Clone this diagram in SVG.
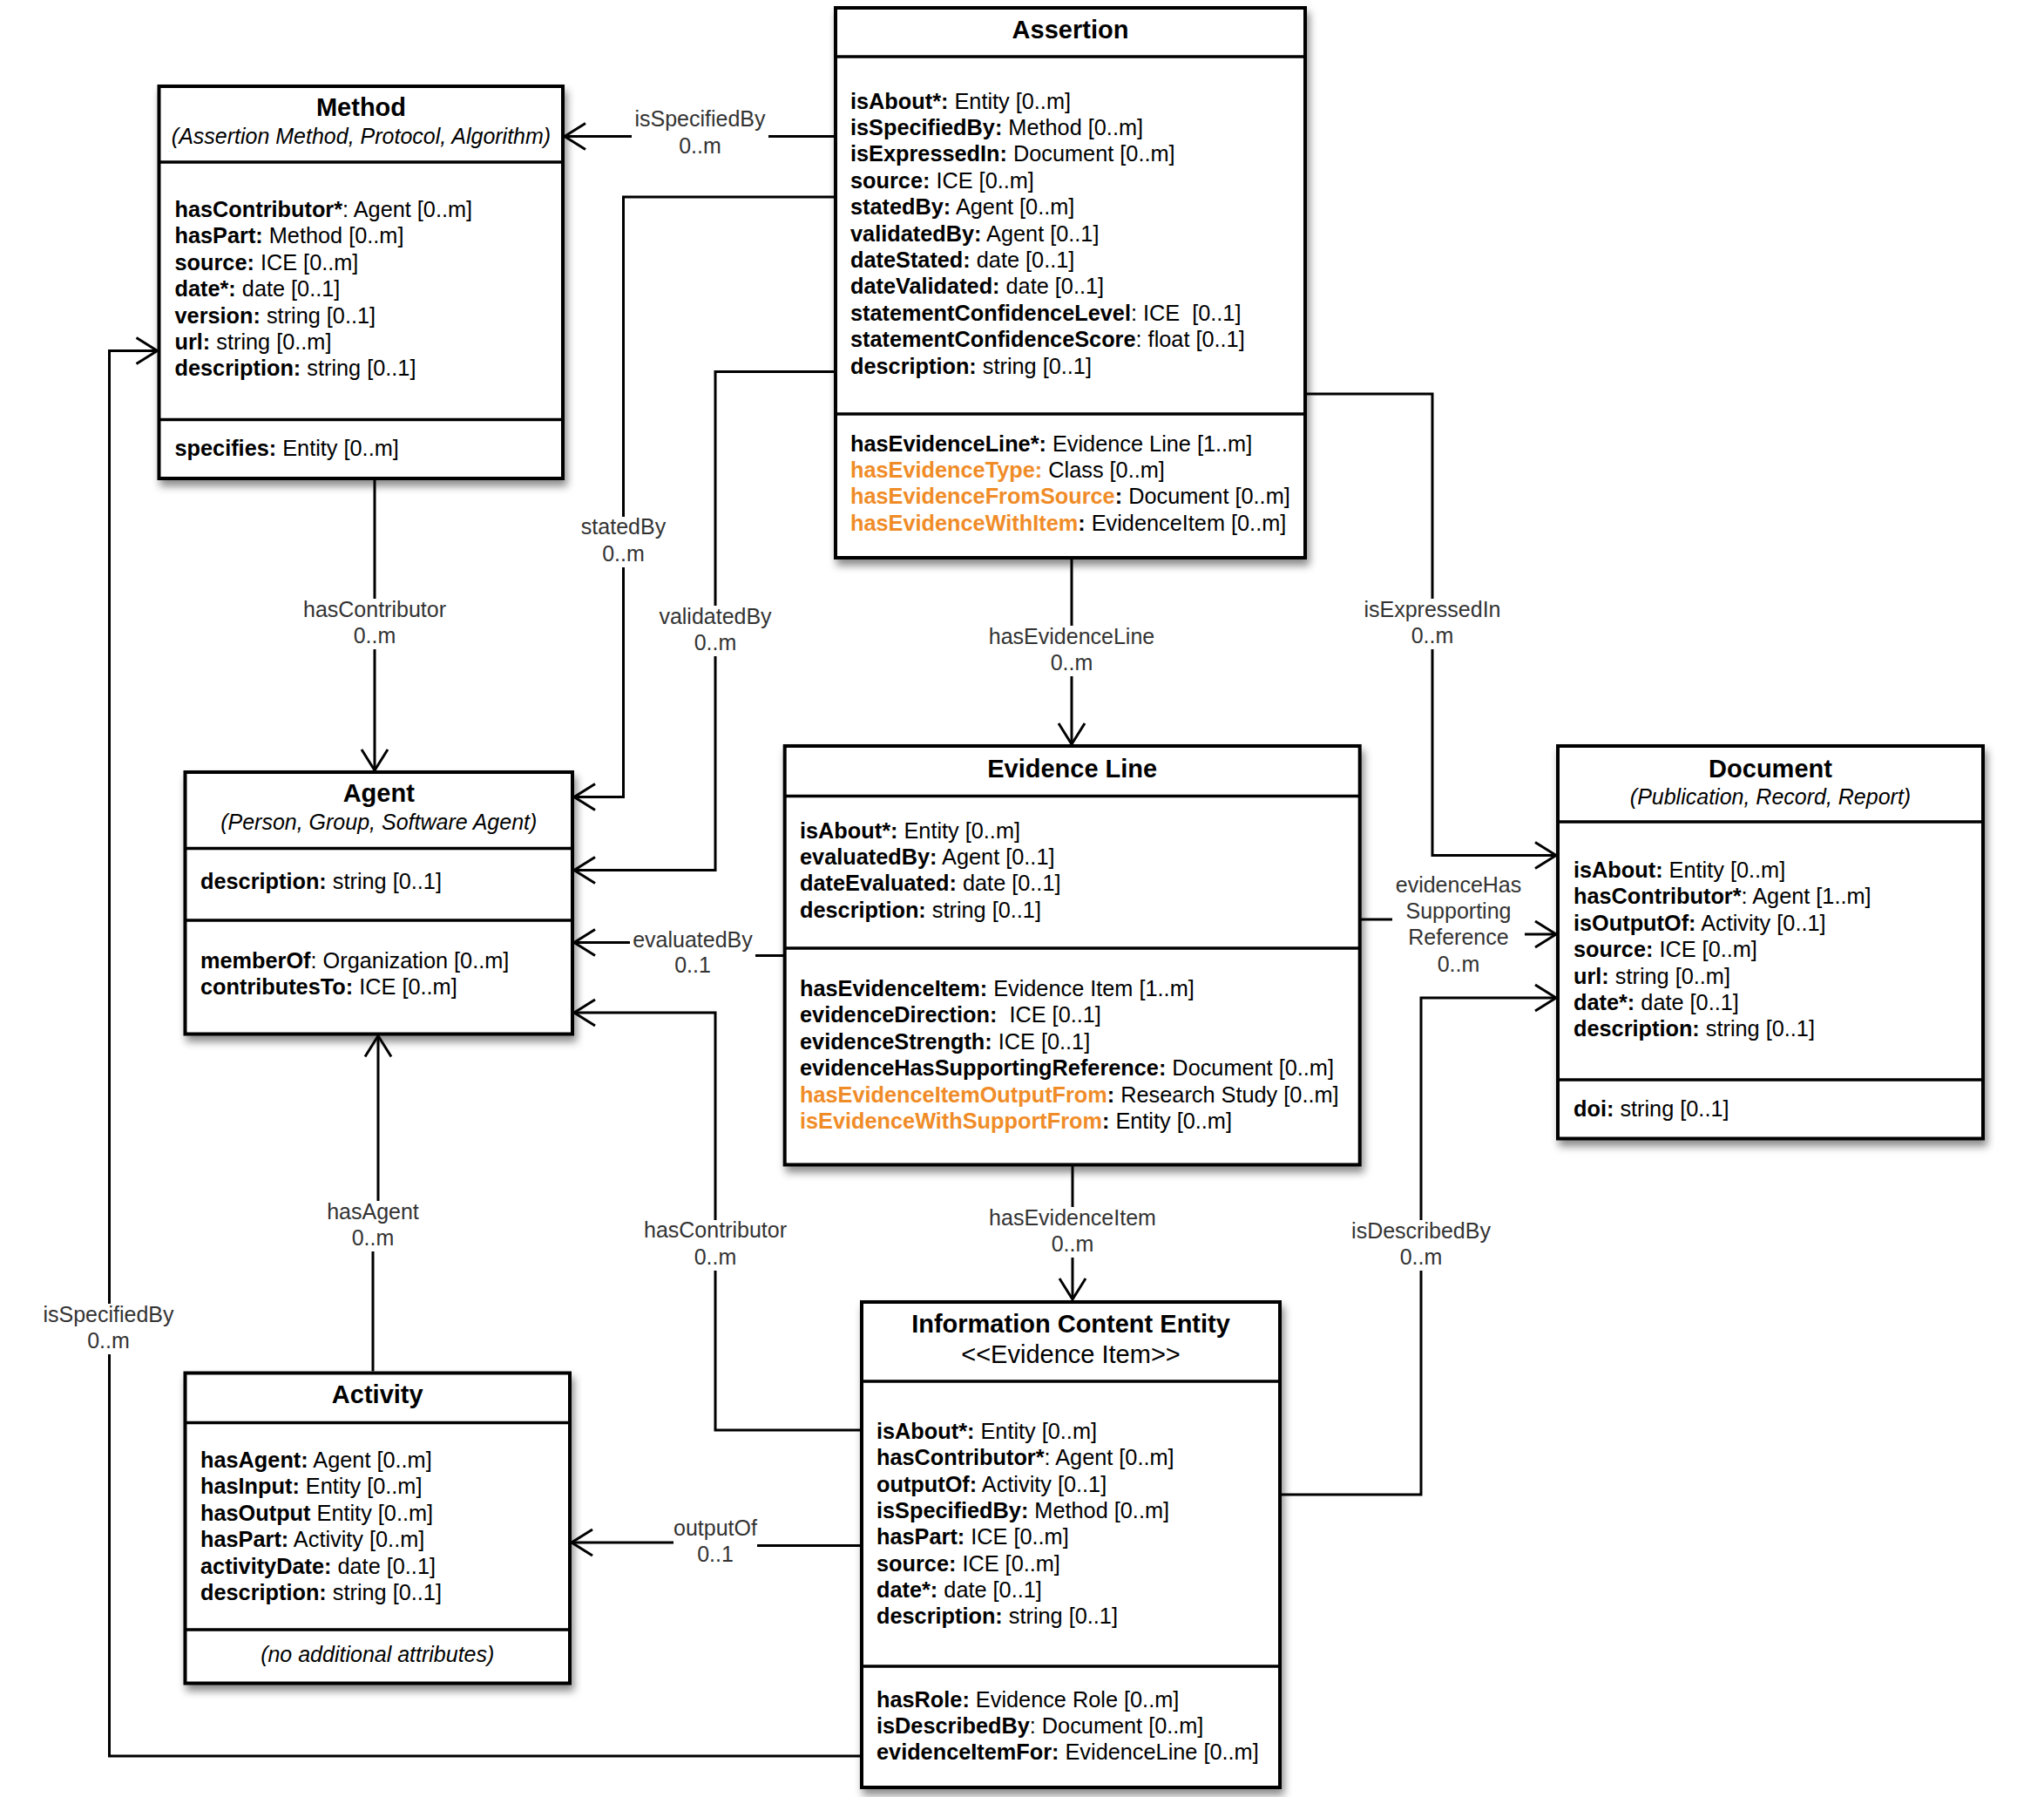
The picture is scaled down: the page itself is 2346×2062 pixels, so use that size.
<svg xmlns="http://www.w3.org/2000/svg" width="2346" height="2062" viewBox="0 0 2346 2062">
  <defs>
    <filter id="shadow" x="-5%" y="-5%" width="112%" height="112%">
      <feDropShadow dx="3" dy="7" stdDeviation="5" flood-color="#000" flood-opacity="0.45"/>
    </filter>
    <marker id="open" markerUnits="userSpaceOnUse" markerWidth="30" markerHeight="32" refX="25" refY="15" orient="auto" overflow="visible">
      <path d="M1,0 L25,15 L1,30" fill="none" stroke="#000" stroke-width="3"/>
    </marker>
    <style>
      text { font-family: "Liberation Sans", Arial, sans-serif; font-size: 25.3px; fill: #000; }
      .title { font-size: 29px; font-weight: bold; text-anchor: middle; }
      .stereo { font-size: 29px; text-anchor: middle; }
      .sub { font-style: italic; text-anchor: middle; font-size: 25px; }
      .b { font-weight: bold; }
      .o { font-weight: bold; fill: #F08C28; }
      .box { fill: #fff; stroke: #000; stroke-width: 4; filter: url(#shadow); }
      .div { stroke: #000; stroke-width: 3.5; }
      .conn { fill: none; stroke: #000; stroke-width: 3; marker-end: url(#open); }
      .lbg { fill: #fff; }
      .lbl { fill: #333; text-anchor: middle; font-size: 25px; }
    </style>
  </defs>

  <!-- connectors -->
  <g id="connectors">
    <path class="conn" d="M959,156.5 H648"/>
    <path class="conn" d="M959,226 H715.5 V914.5 H659"/>
    <path class="conn" d="M959,426.5 H821 V998.5 H659"/>
    <path class="conn" d="M430,551 V884"/>
    <path class="conn" d="M1230,642 V854"/>
    <path class="conn" d="M1500,452 H1644 V981.5 H1786"/>
    <path class="conn" d="M899,1096.5 H795 V1081.5 H659"/>
    <path class="conn" d="M1562,1055 H1674 V1072 H1786"/>
    <path class="conn" d="M1231,1338 V1491"/>
    <path class="conn" d="M1471,1715 H1631 V1145 H1786"/>
    <path class="conn" d="M987,1641 H821 V1162 H659"/>
    <path class="conn" d="M987,1773.5 H821 V1770 H656"/>
    <path class="conn" d="M428,1573.5 V1405 H434 V1188.5"/>
    <path class="conn" d="M987,2015 H125.5 V402.5 H180.5"/>

    <!-- connector labels -->
    <g id="labels">
      <rect class="lbg" x="725" y="125" width="157" height="59"/>
      <text class="lbl" x="803.5" y="145">isSpecifiedBy</text>
      <text class="lbl" x="803.5" y="176">0..m</text>

      <rect class="lbg" x="664" y="593" width="103" height="58"/>
      <text class="lbl" x="715.5" y="613">statedBy</text>
      <text class="lbl" x="715.5" y="643.5">0..m</text>

      <rect class="lbg" x="754" y="695" width="135" height="58"/>
      <text class="lbl" x="821" y="715.5">validatedBy</text>
      <text class="lbl" x="821" y="746">0..m</text>

      <rect class="lbg" x="345" y="687" width="171" height="58"/>
      <text class="lbl" x="430" y="707.5">hasContributor</text>
      <text class="lbl" x="430" y="737.5">0..m</text>

      <rect class="lbg" x="1133" y="718" width="196" height="58"/>
      <text class="lbl" x="1230" y="738.5">hasEvidenceLine</text>
      <text class="lbl" x="1230" y="768.5">0..m</text>

      <rect class="lbg" x="1563" y="687" width="163" height="58"/>
      <text class="lbl" x="1644" y="707.5">isExpressedIn</text>
      <text class="lbl" x="1644" y="737.5">0..m</text>

      <rect class="lbg" x="723" y="1066" width="144" height="57"/>
      <text class="lbl" x="795" y="1086.5">evaluatedBy</text>
      <text class="lbl" x="795" y="1115.5">0..1</text>

      <rect class="lbg" x="1598" y="1003" width="152" height="120"/>
      <text class="lbl" x="1674" y="1023.5">evidenceHas</text>
      <text class="lbl" x="1674" y="1054">Supporting</text>
      <text class="lbl" x="1674" y="1084">Reference</text>
      <text class="lbl" x="1674" y="1115">0..m</text>

      <rect class="lbg" x="1134" y="1385" width="195" height="58"/>
      <text class="lbl" x="1231" y="1405.5">hasEvidenceItem</text>
      <text class="lbl" x="1231" y="1435.5">0..m</text>

      <rect class="lbg" x="1548" y="1400" width="166" height="58"/>
      <text class="lbl" x="1631" y="1420.5">isDescribedBy</text>
      <text class="lbl" x="1631" y="1450.5">0..m</text>

      <rect class="lbg" x="736" y="1400" width="171" height="58"/>
      <text class="lbl" x="821" y="1420">hasContributor</text>
      <text class="lbl" x="821" y="1450.5">0..m</text>

      <rect class="lbg" x="773" y="1742" width="96" height="58"/>
      <text class="lbl" x="821" y="1762">outputOf</text>
      <text class="lbl" x="821" y="1792">0..1</text>

      <rect class="lbg" x="372" y="1378" width="112" height="58"/>
      <text class="lbl" x="428" y="1398.5">hasAgent</text>
      <text class="lbl" x="428" y="1428.5">0..m</text>

      <rect class="lbg" x="46" y="1496" width="157" height="58"/>
      <text class="lbl" x="124.5" y="1516.5">isSpecifiedBy</text>
      <text class="lbl" x="124.5" y="1546.5">0..m</text>
    </g>
  </g>

  <!-- Method -->
  <g id="node-method">
    <rect class="box" x="182.5" y="99" width="463.5" height="450"/>
    <line class="div" x1="182.5" y1="186" x2="646" y2="186"/>
    <line class="div" x1="182.5" y1="481.5" x2="646" y2="481.5"/>
    <text class="title" x="414.5" y="133">Method</text>
    <text class="sub" x="414.5" y="165">(Assertion Method, Protocol, Algorithm)</text>
    <text x="200.5" y="249"><tspan class="b">hasContributor*</tspan>: Agent [0..m]</text>
    <text x="200.5" y="279.4"><tspan class="b">hasPart:</tspan> Method [0..m]</text>
    <text x="200.5" y="309.8"><tspan class="b">source:</tspan> ICE [0..m]</text>
    <text x="200.5" y="340.2"><tspan class="b">date*:</tspan> date [0..1]</text>
    <text x="200.5" y="370.6"><tspan class="b">version:</tspan> string [0..1]</text>
    <text x="200.5" y="401"><tspan class="b">url:</tspan> string [0..m]</text>
    <text x="200.5" y="431.4"><tspan class="b">description:</tspan> string [0..1]</text>
    <text x="200.5" y="523"><tspan class="b">specifies:</tspan> Entity [0..m]</text>
  </g>

  <!-- Assertion -->
  <g id="node-assertion">
    <rect class="box" x="959" y="9" width="539" height="631"/>
    <line class="div" x1="959" y1="65" x2="1498" y2="65"/>
    <line class="div" x1="959" y1="475" x2="1498" y2="475"/>
    <text class="title" x="1228.5" y="44">Assertion</text>
    <text x="976" y="124.5"><tspan class="b">isAbout*:</tspan> Entity [0..m]</text>
    <text x="976" y="154.9"><tspan class="b">isSpecifiedBy:</tspan> Method [0..m]</text>
    <text x="976" y="185.3"><tspan class="b">isExpressedIn:</tspan> Document [0..m]</text>
    <text x="976" y="215.7"><tspan class="b">source:</tspan> ICE [0..m]</text>
    <text x="976" y="246.1"><tspan class="b">statedBy:</tspan> Agent [0..m]</text>
    <text x="976" y="276.5"><tspan class="b">validatedBy:</tspan> Agent [0..1]</text>
    <text x="976" y="306.9"><tspan class="b">dateStated:</tspan> date [0..1]</text>
    <text x="976" y="337.3"><tspan class="b">dateValidated:</tspan> date [0..1]</text>
    <text x="976" y="367.7"><tspan class="b">statementConfidenceLevel</tspan>: ICE &#160;[0..1]</text>
    <text x="976" y="398.1"><tspan class="b">statementConfidenceScore</tspan>: float [0..1]</text>
    <text x="976" y="428.5"><tspan class="b">description:</tspan> string [0..1]</text>
    <text x="976" y="517.5"><tspan class="b">hasEvidenceLine*:</tspan> Evidence Line [1..m]</text>
    <text x="976" y="547.9"><tspan class="o">hasEvidenceType:</tspan> Class [0..m]</text>
    <text x="976" y="578.3"><tspan class="o">hasEvidenceFromSource</tspan><tspan class="b">:</tspan> Document [0..m]</text>
    <text x="976" y="608.7"><tspan class="o">hasEvidenceWithItem</tspan><tspan class="b">:</tspan> EvidenceItem [0..m]</text>
  </g>

  <!-- Agent -->
  <g id="node-agent">
    <rect class="box" x="212.5" y="886" width="444.5" height="300.5"/>
    <line class="div" x1="212.5" y1="973.5" x2="657" y2="973.5"/>
    <line class="div" x1="212.5" y1="1056" x2="657" y2="1056"/>
    <text class="title" x="434.75" y="920">Agent</text>
    <text class="sub" x="434.75" y="952">(Person, Group, Software Agent)</text>
    <text x="230" y="1020"><tspan class="b">description:</tspan> string [0..1]</text>
    <text x="230" y="1111"><tspan class="b">memberOf</tspan>: Organization [0..m]</text>
    <text x="230" y="1141.4"><tspan class="b">contributesTo:</tspan> ICE [0..m]</text>
  </g>

  <!-- Evidence Line -->
  <g id="node-evidence-line">
    <rect class="box" x="900.7" y="856" width="660" height="480.5"/>
    <line class="div" x1="900.7" y1="913.5" x2="1560.7" y2="913.5"/>
    <line class="div" x1="900.7" y1="1088" x2="1560.7" y2="1088"/>
    <text class="title" x="1230.7" y="891.7">Evidence Line</text>
    <text x="918" y="961.5"><tspan class="b">isAbout*:</tspan> Entity [0..m]</text>
    <text x="918" y="991.9"><tspan class="b">evaluatedBy:</tspan> Agent [0..1]</text>
    <text x="918" y="1022.3"><tspan class="b">dateEvaluated:</tspan> date [0..1]</text>
    <text x="918" y="1052.7"><tspan class="b">description:</tspan> string [0..1]</text>
    <text x="918" y="1143"><tspan class="b">hasEvidenceItem:</tspan> Evidence Item [1..m]</text>
    <text x="918" y="1173.4"><tspan class="b">evidenceDirection:</tspan> &#160;ICE [0..1]</text>
    <text x="918" y="1203.8"><tspan class="b">evidenceStrength:</tspan> ICE [0..1]</text>
    <text x="918" y="1234.2"><tspan class="b">evidenceHasSupportingReference:</tspan> Document [0..m]</text>
    <text x="918" y="1264.6"><tspan class="o">hasEvidenceItemOutputFrom</tspan><tspan class="b">:</tspan> Research Study [0..m]</text>
    <text x="918" y="1295"><tspan class="o">isEvidenceWithSupportFrom</tspan><tspan class="b">:</tspan> Entity [0..m]</text>
  </g>

  <!-- Document -->
  <g id="node-document">
    <rect class="box" x="1788" y="856" width="488" height="450.5"/>
    <line class="div" x1="1788" y1="943" x2="2276" y2="943"/>
    <line class="div" x1="1788" y1="1239" x2="2276" y2="1239"/>
    <text class="title" x="2032" y="891.7">Document</text>
    <text class="sub" x="2032" y="922.7">(Publication, Record, Report)</text>
    <text x="1806" y="1007"><tspan class="b">isAbout:</tspan> Entity [0..m]</text>
    <text x="1806" y="1037.4"><tspan class="b">hasContributor*</tspan>: Agent [1..m]</text>
    <text x="1806" y="1067.8"><tspan class="b">isOutputOf:</tspan> Activity [0..1]</text>
    <text x="1806" y="1098.2"><tspan class="b">source:</tspan> ICE [0..m]</text>
    <text x="1806" y="1128.6"><tspan class="b">url:</tspan> string [0..m]</text>
    <text x="1806" y="1159"><tspan class="b">date*:</tspan> date [0..1]</text>
    <text x="1806" y="1189.4"><tspan class="b">description:</tspan> string [0..1]</text>
    <text x="1806" y="1281"><tspan class="b">doi:</tspan> string [0..1]</text>
  </g>

  <!-- Activity -->
  <g id="node-activity">
    <rect class="box" x="212.5" y="1575.5" width="441.5" height="356"/>
    <line class="div" x1="212.5" y1="1632.5" x2="654" y2="1632.5"/>
    <line class="div" x1="212.5" y1="1870" x2="654" y2="1870"/>
    <text class="title" x="433.25" y="1610">Activity</text>
    <text x="230" y="1684"><tspan class="b">hasAgent:</tspan> Agent [0..m]</text>
    <text x="230" y="1714.4"><tspan class="b">hasInput:</tspan> Entity [0..m]</text>
    <text x="230" y="1744.8"><tspan class="b">hasOutput</tspan> Entity [0..m]</text>
    <text x="230" y="1775.2"><tspan class="b">hasPart:</tspan> Activity [0..m]</text>
    <text x="230" y="1805.6"><tspan class="b">activityDate:</tspan> date [0..1]</text>
    <text x="230" y="1836"><tspan class="b">description:</tspan> string [0..1]</text>
    <text class="sub" x="433.25" y="1907">(no additional attributes)</text>
  </g>

  <!-- Information Content Entity -->
  <g id="node-ice">
    <rect class="box" x="989" y="1494" width="480" height="557"/>
    <line class="div" x1="989" y1="1585" x2="1469" y2="1585"/>
    <line class="div" x1="989" y1="1912" x2="1469" y2="1912"/>
    <text class="title" x="1229" y="1529">Information Content Entity</text>
    <text class="stereo" x="1229" y="1563.5">&lt;&lt;Evidence Item&gt;&gt;</text>
    <text x="1006" y="1651"><tspan class="b">isAbout*:</tspan> Entity [0..m]</text>
    <text x="1006" y="1681.3"><tspan class="b">hasContributor*</tspan>: Agent [0..m]</text>
    <text x="1006" y="1711.6"><tspan class="b">outputOf:</tspan> Activity [0..1]</text>
    <text x="1006" y="1741.9"><tspan class="b">isSpecifiedBy:</tspan> Method [0..m]</text>
    <text x="1006" y="1772.2"><tspan class="b">hasPart:</tspan> ICE [0..m]</text>
    <text x="1006" y="1802.5"><tspan class="b">source:</tspan> ICE [0..m]</text>
    <text x="1006" y="1832.8"><tspan class="b">date*:</tspan> date [0..1]</text>
    <text x="1006" y="1863.1"><tspan class="b">description:</tspan> string [0..1]</text>
    <text x="1006" y="1958.6"><tspan class="b">hasRole:</tspan> Evidence Role [0..m]</text>
    <text x="1006" y="1988.9"><tspan class="b">isDescribedBy</tspan>: Document [0..m]</text>
    <text x="1006" y="2019.2"><tspan class="b">evidenceItemFor:</tspan> EvidenceLine [0..m]</text>
  </g>
</svg>
